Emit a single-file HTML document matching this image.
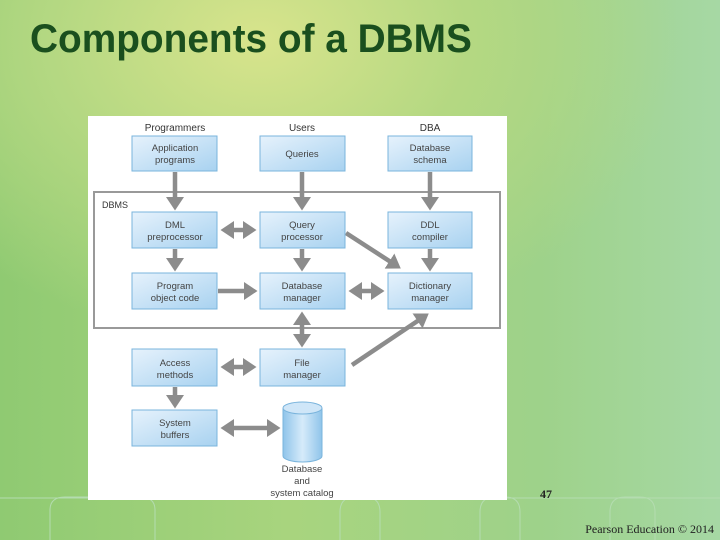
<!DOCTYPE html>
<html><head><style>
body{margin:0;width:720px;height:540px;overflow:hidden;position:relative;
background:radial-gradient(ellipse 420px 300px at 260px 40px,#d8e48c 0%,#b4d882 50%,rgba(160,210,130,0) 100%),linear-gradient(90deg,#8fca72 0%,#a8d47e 40%,#9ed28a 75%,#a6d8a4 100%);
font-family:"Liberation Sans",sans-serif;}
h1{position:absolute;left:30px;top:17px;margin:0;font-size:40px;color:#1a4f1e;font-weight:bold;letter-spacing:0px;font-family:"Liberation Sans",sans-serif;transform:scale(0.97,1);transform-origin:left top;white-space:nowrap}
</style></head><body>
<h1>Components of a DBMS</h1>
<svg width="720" height="540" style="position:absolute;left:0;top:0">
<defs>
<linearGradient id="bx" x1="0" y1="0" x2="1" y2="1"><stop offset="0" stop-color="#e6f2fc"/><stop offset="1" stop-color="#a8d2f0"/></linearGradient>
<linearGradient id="cy" x1="0" x2="1"><stop offset="0" stop-color="#8fc4ea"/><stop offset="0.5" stop-color="#d6ebfa"/><stop offset="1" stop-color="#8fc4ea"/></linearGradient>
<marker id="a" markerWidth="4" markerHeight="4" refX="2" refY="2" orient="auto" markerUnits="strokeWidth"><path d="M0,0 L3,2 L0,4 Z" fill="#8c8c8c"/></marker>
<marker id="b" markerWidth="4" markerHeight="4" refX="1" refY="2" orient="auto" markerUnits="strokeWidth"><path d="M3,0 L0,2 L3,4 Z" fill="#8c8c8c"/></marker>
</defs>
<g fill="none" stroke="#b4dcb0" stroke-width="1">
<path d="M50,540 V510 Q50,497 65,497 H140 Q155,497 155,510 V540"/>
<path d="M340,540 V512 Q340,497 355,497 H365 Q380,497 380,512 V540"/>
<path d="M480,540 V512 Q480,497 495,497 H505 Q520,497 520,512 V540"/>
<path d="M610,540 V512 Q610,497 625,497 H640 Q655,497 655,512 V540"/>
<path d="M0,498 H720"/>
</g>
<rect x="88" y="116" width="419" height="384" fill="#fff"/>
<g font-size="10" fill="#333" text-anchor="middle">
<text x="175" y="131">Programmers</text><text x="302" y="131">Users</text><text x="430" y="131">DBA</text>
</g>
<rect x="94" y="192" width="406" height="136" fill="none" stroke="#999" stroke-width="2"/>
<text x="102" y="208" font-size="9" fill="#333">DBMS</text>
<g stroke="#8c8c8c" stroke-width="4.5" fill="none">
<path d="M175,172 V206" marker-end="url(#a)"/>
<path d="M302,172 V206" marker-end="url(#a)"/>
<path d="M430,172 V206" marker-end="url(#a)"/>
<path d="M175,249 V267" marker-end="url(#a)"/>
<path d="M302,249 V267" marker-end="url(#a)"/>
<path d="M430,249 V267" marker-end="url(#a)"/>
<path d="M225,230 H252" marker-start="url(#b)" marker-end="url(#a)"/>
<path d="M218,291 H253" marker-end="url(#a)"/>
<path d="M353,291 H380" marker-start="url(#b)" marker-end="url(#a)"/>
<path d="M346,233 L397,266" marker-end="url(#a)"/>
<path d="M302,316 V343" marker-start="url(#b)" marker-end="url(#a)"/>
<path d="M352,365 L425,316" marker-end="url(#a)"/>
<path d="M225,367 H252" marker-start="url(#b)" marker-end="url(#a)"/>
<path d="M175,387 V404" marker-end="url(#a)"/>
<path d="M225,428 H276" marker-start="url(#b)" marker-end="url(#a)"/>
</g>
<g stroke="#7ab4dc" stroke-width="1" fill="url(#bx)">
<rect x="132" y="136" width="85" height="35"/><rect x="260" y="136" width="85" height="35"/><rect x="388" y="136" width="84" height="35"/>
<rect x="132" y="212" width="85" height="36"/><rect x="260" y="212" width="85" height="36"/><rect x="388" y="212" width="84" height="36"/>
<rect x="132" y="273" width="85" height="36"/><rect x="260" y="273" width="85" height="36"/><rect x="388" y="273" width="84" height="36"/>
<rect x="132" y="349" width="85" height="37"/><rect x="260" y="349" width="85" height="37"/>
<rect x="132" y="410" width="85" height="36"/>
</g>
<path d="M283,408 V456 A19.5,6 0 0 0 322,456 V408" fill="url(#cy)" stroke="#7ab4dc"/>
<ellipse cx="302.5" cy="408" rx="19.5" ry="6" fill="#cfe6f8" stroke="#7ab4dc"/>
<g font-size="9.5" fill="#444" text-anchor="middle">
<text x="175" y="151">Application</text><text x="175" y="163">programs</text>
<text x="302" y="157">Queries</text>
<text x="430" y="151">Database</text><text x="430" y="163">schema</text>
<text x="175" y="228">DML</text><text x="175" y="240">preprocessor</text>
<text x="302" y="228">Query</text><text x="302" y="240">processor</text>
<text x="430" y="228">DDL</text><text x="430" y="240">compiler</text>
<text x="175" y="289">Program</text><text x="175" y="301">object code</text>
<text x="302" y="289">Database</text><text x="302" y="301">manager</text>
<text x="430" y="289">Dictionary</text><text x="430" y="301">manager</text>
<text x="175" y="366">Access</text><text x="175" y="378">methods</text>
<text x="302" y="366">File</text><text x="302" y="378">manager</text>
<text x="175" y="426">System</text><text x="175" y="438">buffers</text>
<text x="302" y="472">Database</text><text x="302" y="484">and</text><text x="302" y="496">system catalog</text>
</g>
<text x="546" y="498" font-family="Liberation Serif" font-size="12" font-weight="bold" text-anchor="middle" fill="#222">47</text>
<text x="714" y="533" font-family="Liberation Serif" font-size="12" text-anchor="end" fill="#222">Pearson Education © 2014</text>
</svg>
</body></html>
